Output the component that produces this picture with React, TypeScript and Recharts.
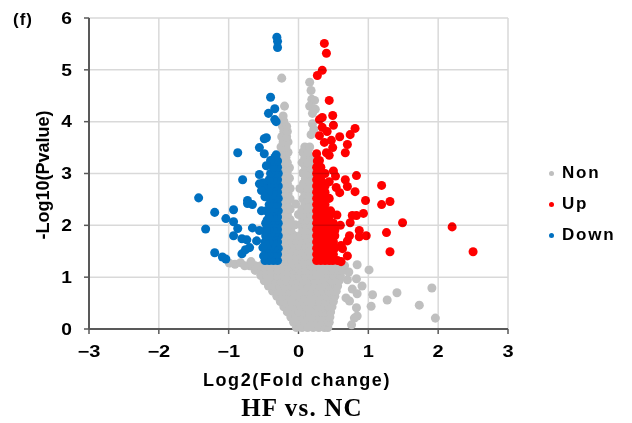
import React from 'react';
import { ScatterChart, Scatter, XAxis, YAxis, ZAxis } from 'recharts';

type Pt = [number, number];
type Row = [number, number[]];

const xTicks = [-3, -2, -1, 0, 1, 2, 3];
const yTicks = [0, 1, 2, 3, 4, 5, 6];

// grey fan below the p-value cut-off, one row per -log10(p) level
const nonLowerRows: Row[] = [
  [0.03, [-0.03, 0.05, 0.13, 0.21, 0.29, 0.37, 0.42]],
  [0.13, [-0.07, 0.01, 0.09, 0.17, 0.25, 0.33, 0.41, 0.44]],
  [0.23, [-0.11, -0.03, 0.05, 0.13, 0.21, 0.29, 0.37, 0.45]],
  [0.33, [-0.16, -0.08, 0.0, 0.08, 0.16, 0.24, 0.32, 0.4, 0.46]],
  [0.43, [-0.21, -0.13, -0.05, 0.03, 0.11, 0.19, 0.27, 0.35, 0.43, 0.48]],
  [0.53, [-0.26, -0.18, -0.1, -0.02, 0.06, 0.14, 0.22, 0.3, 0.38, 0.46, 0.5]],
  [0.63, [-0.31, -0.23, -0.15, -0.07, 0.01, 0.09, 0.17, 0.25, 0.33, 0.41, 0.49, 0.52]],
  [0.73, [-0.37, -0.29, -0.21, -0.13, -0.05, 0.03, 0.11, 0.19, 0.27, 0.35, 0.43, 0.51, 0.54]],
  [0.83, [-0.43, -0.35, -0.27, -0.19, -0.11, -0.03, 0.05, 0.13, 0.21, 0.29, 0.37, 0.45, 0.53, 0.56]],
  [0.93, [-0.49, -0.41, -0.33, -0.25, -0.17, -0.09, -0.01, 0.07, 0.15, 0.23, 0.31, 0.39, 0.47, 0.55, 0.58]],
  [1.03, [-0.54, -0.46, -0.38, -0.3, -0.22, -0.14, -0.06, 0.02, 0.1, 0.18, 0.26, 0.34, 0.42, 0.5, 0.58, 0.6]],
  [1.13, [-0.62, -0.54, -0.46, -0.38, -0.3, -0.22, -0.14, -0.06, 0.02, 0.1, 0.18, 0.26, 0.34, 0.42, 0.5, 0.58, 0.63]],
  [1.22, [-0.7, -0.62, -0.54, -0.46, -0.38, -0.3, -0.22, -0.14, -0.06, 0.02, 0.1, 0.18, 0.26, 0.34, 0.42, 0.5, 0.58, 0.66]],
];

// grey column between the two coloured groups
const nonUpperRows: Row[] = [
  [1.31, [-0.26, -0.18, -0.1, -0.02, 0.06, 0.14, 0.22]],
  [1.41, [-0.22, -0.14, -0.06, 0.02, 0.1, 0.18]],
  [1.51, [-0.26, -0.18, -0.1, -0.02, 0.06, 0.14, 0.22]],
  [1.61, [-0.22, -0.14, -0.06, 0.02, 0.1, 0.18]],
  [1.71, [-0.26, -0.18, -0.1, -0.03, 0.06, 0.14, 0.22]],
  [1.81, [-0.22, -0.14, -0.07, 0.03, 0.1, 0.18]],
  [1.91, [-0.26, -0.18, -0.11, 0.06, 0.14, 0.22]],
  [2.01, [-0.23, -0.15, -0.05, 0.03, 0.1, 0.18]],
  [2.11, [-0.26, -0.19, -0.12, 0.06, 0.13, 0.21]],
  [2.21, [-0.23, -0.16, 0.0, 0.09, 0.17, 0.23]],
  [2.31, [-0.26, -0.19, -0.12, 0.05, 0.13, 0.21]],
  [2.41, [-0.23, -0.16, -0.04, 0.09, 0.17, 0.23]],
  [2.51, [-0.26, -0.19, -0.12, 0.06, 0.13, 0.21]],
  [2.61, [-0.23, -0.15, 0.09, 0.17, 0.23]],
  [2.71, [-0.26, -0.19, -0.12, 0.02, 0.13, 0.21]],
  [2.81, [-0.23, -0.16, 0.07, 0.16, 0.23]],
  [2.91, [-0.26, -0.19, -0.13, 0.1, 0.19]],
  [3.01, [-0.23, -0.16, 0.06, 0.14, 0.22]],
  [3.11, [-0.26, -0.19, -0.13, 0.1, 0.18]],
  [3.21, [-0.23, -0.16, 0.05, 0.13, 0.21]],
  [3.31, [-0.25, -0.18, 0.09, 0.17]],
  [3.41, [-0.22, -0.15, 0.06, 0.13]],
  [3.51, [-0.25, -0.18, 0.09, 0.16]],
  [3.61, [-0.22, -0.15]],
  [3.71, [-0.24, -0.17]],
  [3.81, [-0.21, -0.16]],
  [3.91, [-0.23, -0.17]],
  [4.01, [-0.21]],
  [4.11, [-0.22]],
];

const nonScatter: Pt[] = [
  [-0.99, 1.27], [-0.91, 1.25], [-0.83, 1.28], [-0.77, 1.22], [-0.68, 1.3],
  [-0.24, 4.84], [0.16, 4.76], [0.18, 4.6], [0.19, 4.43], [0.23, 4.41], [0.16, 4.3],
  [0.24, 4.24], [0.2, 4.16], [0.2, 3.96], [0.18, 3.75], [0.22, 3.85], [-0.2, 4.3],
  [0.84, 1.24], [1.01, 1.14], [0.83, 0.97], [0.91, 0.83], [0.77, 0.77], [0.84, 0.68],
  [1.06, 0.66], [1.41, 0.7], [1.27, 0.56], [1.91, 0.79], [1.73, 0.46], [1.96, 0.21],
  [1.04, 0.44], [0.83, 0.41], [0.73, 0.54], [0.84, 0.25], [0.8, 0.21], [0.76, 0.08],
  [0.72, 1.1], [0.7, 0.95], [0.68, 0.6],
];

// dense up-regulated column just right of the fold-change cut-off
const upColumnRows: Row[] = [
  [1.32, [0.26, 0.32, 0.38, 0.44]],
  [1.38, [0.29, 0.35, 0.41, 0.47]],
  [1.44, [0.26, 0.32, 0.38, 0.44, 0.5]],
  [1.56, [0.26, 0.32, 0.38, 0.44, 0.52]],
  [1.62, [0.29, 0.35, 0.41, 0.47]],
  [1.68, [0.26, 0.32, 0.38, 0.44, 0.5]],
  [1.8, [0.26, 0.32, 0.38, 0.44, 0.52]],
  [1.86, [0.29, 0.35, 0.41]],
  [1.92, [0.26, 0.32, 0.38, 0.45]],
  [2.04, [0.26, 0.32, 0.38, 0.44, 0.5]],
  [2.1, [0.29, 0.35, 0.41]],
  [2.16, [0.26, 0.32, 0.38, 0.44]],
  [2.28, [0.26, 0.32, 0.38, 0.46]],
  [2.34, [0.29, 0.35]],
  [2.4, [0.26, 0.32, 0.38]],
  [2.52, [0.26, 0.32, 0.38, 0.44]],
  [2.58, [0.29, 0.35]],
  [2.64, [0.26, 0.32, 0.38]],
  [2.76, [0.26, 0.32, 0.38]],
  [2.82, [0.29, 0.35]],
  [2.88, [0.26, 0.32]],
  [3.0, [0.26, 0.32, 0.38]],
  [3.06, [0.29]],
  [3.12, [0.26, 0.32]],
  [3.24, [0.27]],
];

const upScatter: Pt[] = [
  [0.37, 5.51], [0.4, 5.32], [0.34, 4.99], [0.27, 4.89], [0.44, 4.41], [0.49, 4.12],
  [0.34, 4.08], [0.3, 4.04], [0.34, 3.89], [0.5, 3.93], [0.81, 3.87], [0.41, 3.81],
  [0.3, 3.73], [0.59, 3.71], [0.74, 3.75], [0.47, 3.64], [0.37, 3.6], [0.7, 3.56],
  [0.49, 3.5], [0.4, 3.4], [0.26, 3.38], [0.67, 3.4], [0.44, 3.35], [0.3, 3.25],
  [0.83, 2.96], [1.19, 2.77], [0.67, 2.88], [0.44, 2.84], [0.54, 2.73], [0.59, 2.63],
  [0.81, 2.65], [0.96, 2.48], [1.31, 2.46], [0.7, 2.75], [1.19, 2.4], [0.93, 2.23],
  [0.83, 2.19], [0.77, 2.19], [0.74, 2.05], [1.49, 2.05], [2.2, 1.97], [1.26, 1.86],
  [0.87, 1.9], [0.97, 1.8], [0.87, 1.78], [0.73, 1.8], [0.7, 1.7], [0.61, 1.61],
  [0.63, 1.55], [1.31, 1.49], [2.5, 1.49], [0.7, 1.41], [0.56, 1.32], [0.61, 1.3],
  [0.49, 1.32], [0.53, 2.95], [0.5, 3.05], [0.55, 2.2], [0.6, 2.0], [0.52, 1.9],
];

// dense down-regulated column just left of the fold-change cut-off
const downColumnRows: Row[] = [
  [1.32, [-0.3, -0.36, -0.42, -0.48]],
  [1.38, [-0.33, -0.39, -0.45]],
  [1.44, [-0.3, -0.36, -0.42, -0.47]],
  [1.56, [-0.29, -0.35, -0.41, -0.46]],
  [1.62, [-0.32, -0.38, -0.44]],
  [1.68, [-0.3, -0.36, -0.42, -0.48]],
  [1.8, [-0.29, -0.35, -0.41, -0.47]],
  [1.86, [-0.33, -0.39]],
  [1.92, [-0.3, -0.36, -0.42, -0.46]],
  [2.04, [-0.29, -0.35, -0.41, -0.47]],
  [2.1, [-0.32, -0.38, -0.45]],
  [2.16, [-0.3, -0.36, -0.42]],
  [2.28, [-0.29, -0.35, -0.41, -0.46]],
  [2.34, [-0.33, -0.39]],
  [2.4, [-0.3, -0.36, -0.42]],
  [2.52, [-0.29, -0.35, -0.4]],
  [2.58, [-0.32, -0.38]],
  [2.64, [-0.3, -0.36, -0.43]],
  [2.76, [-0.29, -0.35, -0.41]],
  [2.82, [-0.33, -0.39]],
  [2.88, [-0.3, -0.36, -0.42]],
  [3.0, [-0.29, -0.35, -0.4]],
  [3.06, [-0.33]],
  [3.12, [-0.3, -0.36]],
  [3.24, [-0.3, -0.37]],
  [3.36, [-0.32]],
];

const downScatter: Pt[] = [
  [-0.31, 5.63], [-0.3, 5.55], [-0.3, 5.43], [-0.4, 4.47], [-0.34, 4.25], [-0.43, 4.16],
  [-0.34, 4.04], [-0.32, 4.0], [-0.46, 3.69], [-0.49, 3.67], [-0.87, 3.4], [-0.56, 3.5],
  [-0.49, 3.38], [-0.34, 3.31], [-0.4, 3.25], [-0.46, 3.15], [-0.8, 2.88], [-0.56, 2.98],
  [-0.51, 2.82], [-0.51, 2.73], [-1.43, 2.53], [-0.73, 2.48], [-1.2, 2.25], [-1.33, 1.93],
  [-1.04, 2.13], [-0.93, 2.3], [-0.93, 2.07], [-0.87, 1.94], [-0.93, 1.8], [-0.81, 1.74],
  [-0.74, 1.72], [-1.2, 1.47], [-1.09, 1.39], [-1.04, 1.35], [-0.81, 1.45], [-0.76, 1.53],
  [-0.7, 1.57], [-0.73, 2.42], [-0.66, 2.4], [-0.53, 2.28], [-0.66, 1.95], [-0.56, 1.9],
  [-0.6, 1.7], [-0.51, 1.57], [-0.5, 1.41], [-0.56, 2.8], [-0.53, 2.67], [-0.48, 2.55],
];

const toPoints = (rows: Row[], pts: Pt[]) => [
  ...rows.flatMap(([y, xs]) => xs.map((x) => ({ x, y }))),
  ...pts.map(([x, y]) => ({ x, y })),
];

const series = [
  { name: 'Non', color: '#BFBFBF', data: [...toPoints(nonLowerRows, []), ...toPoints(nonUpperRows, nonScatter)] },
  { name: 'Up', color: '#FF0000', data: toPoints(upColumnRows, upScatter) },
  { name: 'Down', color: '#0070C0', data: toPoints(downColumnRows, downScatter) },
];

const FONT = '"Liberation Sans", Arial, sans-serif';
const AXIS = '#595959';
const GRID = '#D9D9D9';

// chart frame
const W = 616;
const H = 407;
const M = { top: 10, right: 116, bottom: 56, left: 41 };
const Y_AXIS_W = 40;
const X_AXIS_H = 30;
const TICK_SIZE = 5;
const TICK_MARGIN = 12;
const PLOT_W = W - M.left - M.right - Y_AXIS_W;
const PLOT_H = H - M.top - M.bottom - X_AXIS_H;

const fmtTick = (v: number) => (v < 0 ? `\u2212${Math.abs(v)}` : `${v}`);

// axes paint above the dots, so 'darken' keeps the light gridlines from showing over them
const gridStyle = { mixBlendMode: 'darken' as const };

// tick labels (a little wider than plain Arial bold) plus the light gridline of each tick
const XTick = (props: any) => {
  const { x, y, payload, index } = props;
  const axisY = y - TICK_SIZE - TICK_MARGIN;
  return (
    <g>
      {index > 0 && (
        <line x1={x} x2={x} y1={axisY} y2={axisY - PLOT_H} stroke={GRID} strokeWidth={1.5} style={gridStyle} />
      )}
      <text transform={`translate(${x},${y}) scale(1.25,1)`} textAnchor="middle" dy="0.71em"
        fontSize={16} fontWeight={700} fontFamily={FONT} fill="#000">
        {fmtTick(payload.value)}
      </text>
    </g>
  );
};

const YTick = (props: any) => {
  const { x, y, payload } = props;
  const axisX = x + TICK_SIZE + TICK_MARGIN;
  return (
    <g>
      {payload.value > yTicks[0] && (
        <line x1={axisX} x2={axisX + PLOT_W} y1={y} y2={y} stroke={GRID} strokeWidth={1.5} style={gridStyle} />
      )}
      <text transform={`translate(${x},${y}) scale(1.2,1)`} textAnchor="end" dy="0.355em"
        fontSize={16} fontWeight={700} fontFamily={FONT} fill="#000">
        {payload.value}
      </text>
    </g>
  );
};

export default function App() {
  return (
    <div style={{ position: 'relative', width: W, height: 415, fontFamily: FONT, color: '#000', background: '#fff' }}>
      <ScatterChart width={W} height={H} margin={M}>
        <XAxis
          type="number"
          dataKey="x"
          domain={[-3, 3]}
          ticks={xTicks}
          interval={0}
          height={X_AXIS_H}
          axisLine={{ stroke: AXIS, strokeWidth: 2 }}
          tickLine={{ stroke: AXIS, strokeWidth: 1.5 }}
          tickSize={TICK_SIZE}
          tickMargin={TICK_MARGIN}
          tick={<XTick />}
        />
        <YAxis
          type="number"
          dataKey="y"
          domain={[0, 6]}
          ticks={yTicks}
          interval={0}
          width={Y_AXIS_W}
          axisLine={{ stroke: AXIS, strokeWidth: 2 }}
          tickLine={{ stroke: AXIS, strokeWidth: 1.5 }}
          tickSize={TICK_SIZE}
          tickMargin={TICK_MARGIN}
          tick={<YTick />}
        />
        <ZAxis type="number" range={[34, 34]} />
        {series.map((s) => (
          <Scatter key={s.name} name={s.name} data={s.data} fill={s.color} isAnimationActive={false} />
        ))}
      </ScatterChart>

      <div style={{ position: 'absolute', left: 5, top: 2, fontSize: 17, fontWeight: 700, lineHeight: '20px', letterSpacing: 1 }}>(f)</div>

      <div
        style={{
          position: 'absolute', left: -65, top: 157, width: 200, height: 20, lineHeight: '20px',
          textAlign: 'center', fontSize: 18, fontWeight: 700, transform: 'rotate(-90deg)',
        }}
      >
        -Log10(Pvalue)
      </div>

      <div
        style={{
          position: 'absolute', left: 139, top: 362, width: 300, lineHeight: '20px',
          textAlign: 'center', fontSize: 18, fontWeight: 700, letterSpacing: 1.6,
        }}
      >
        Log2(Fold change)
      </div>

      <div
        style={{
          position: 'absolute', left: 144, top: 386, width: 300, lineHeight: '28px', textAlign: 'center',
          fontSize: 25, fontWeight: 700, letterSpacing: 1.2, fontFamily: '"Liberation Serif", "Times New Roman", serif',
        }}
      >
        HF vs. NC
      </div>

      {series.map((s, i) => (
        <div
          key={s.name}
          style={{ position: 'absolute', left: 541, top: 155 + i * 31, height: 20, display: 'flex', alignItems: 'center' }}
        >
          <span style={{ width: 5, height: 5, borderRadius: 3, background: s.color, display: 'inline-block', marginRight: 8 }} />
          <span style={{ fontSize: 17, fontWeight: 700, letterSpacing: 1.8 }}>{s.name}</span>
        </div>
      ))}
    </div>
  );
}
